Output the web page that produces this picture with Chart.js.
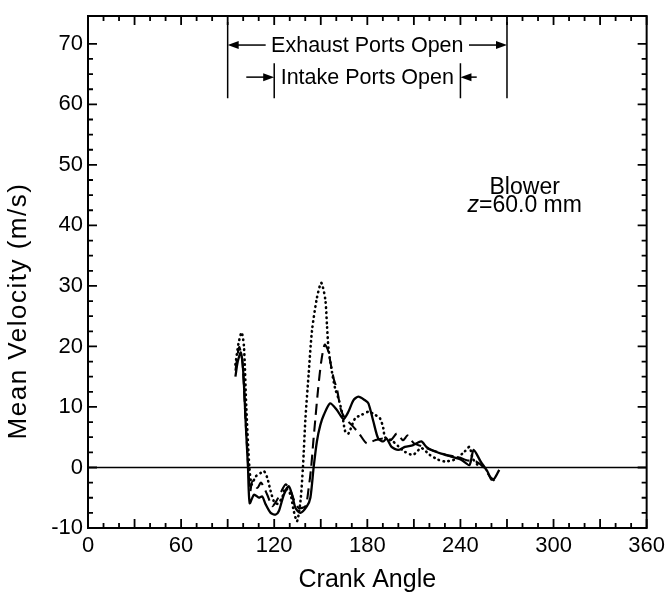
<!DOCTYPE html>
<html>
<head>
<meta charset="utf-8">
<script src="https://cdn.jsdelivr.net/npm/chart.js@4.4.1/dist/chart.umd.min.js"></script>
<style>
    html, body { margin: 0; padding: 0; background: #fff; }
    #wrap { width: 672px; height: 595px; }
</style>
</head>
<body>
<div id="wrap"><canvas id="myChart" width="672" height="595"></canvas></div>
<script>
var FONT = "'Liberation Sans', Arial, Helvetica, sans-serif";

// solid trace
var solidAngle = [95, 96.5, 98.5, 100, 101.6, 103.1, 104.2, 107, 110.2, 112.3, 114.5, 117.7, 120.9, 123, 126.2, 129.4, 131.5, 133.7, 136.9, 141.1, 143.3, 145.4, 147.5, 149.7, 152, 156, 160.4, 164.6, 167.8, 171, 174.2, 178.5, 180.7, 183.9, 187, 190.3, 192.4, 195.6, 199.9, 204.2, 209.5, 214.8, 218, 221.2, 227.6, 234, 240.4, 245.8, 248.5, 253, 257.5, 260, 262, 265];
var solidVel = [15.0, 17.5, 19.0, 16.0, 7.5, 0, -5.9, -4.5, -5.0, -4.8, -6.1, -7.5, -7.8, -7.2, -4.5, -3.1, -4.5, -6.7, -7.5, -6.4, -5.0, 0, 4.3, 7.0, 8.7, 10.6, 9.5, 8.0, 9.2, 11.1, 11.7, 11.1, 10.6, 7.6, 4.8, 4.3, 4.8, 3.4, 2.9, 3.4, 3.7, 4.3, 3.4, 2.9, 2.3, 1.8, 1.3, 0.4, 2.9, 1.0, -0.7, -2.0, -1.8, -0.4];

// dashed trace
var dashAngle = [95, 97.4, 99.5, 101.5, 103.3, 104.5, 105.9, 109.1, 111.5, 115.5, 118.7, 121.5, 124.5, 127.3, 130, 132.6, 135.8, 140.1, 142.2, 143.8, 145.2, 146.5, 148.3, 150.3, 152.5, 154.5, 156.5, 158.5, 160.4, 163, 166, 170, 175, 179.6, 185, 190, 195, 199, 203, 206, 210, 215, 220, 226, 232, 238, 244, 250, 255, 259, 262];
var dashVel = [16.0, 19.9, 17.5, 8.0, 0, -4.0, -2.3, -3.4, -2.5, -4.5, -6.4, -5.5, -4.0, -2.8, -3.5, -5.3, -6.7, -6.4, -3.4, 0, 4.3, 8.0, 13.0, 17.5, 20.3, 19.5, 17.0, 14.5, 13.0, 9.5, 8.0, 7.0, 5.5, 4.0, 4.5, 4.8, 4.5, 5.6, 4.5, 5.3, 4.0, 3.5, 3.0, 2.5, 2.0, 1.8, 1.2, 1.0, 0, -1.5, -2.2];

// dotted trace
var dotAngle = [95, 97, 99, 100.5, 102, 104, 105.5, 108, 111.3, 113.4, 115.5, 117.7, 119.8, 122, 125.1, 127.3, 130.5, 132.6, 134.7, 136.9, 138.5, 140.1, 142.2, 144.3, 147.5, 150.3, 152.9, 154, 155, 157.2, 159.3, 161.4, 163.6, 165.7, 167.8, 172.1, 176.4, 180.7, 185, 188.2, 190.3, 191.4, 195.6, 200, 204.1, 209.5, 214.8, 220.1, 225.5, 229.8, 236.2, 242.6, 245.8, 247.9, 251.1];
var dotVel = [17.0, 20.5, 22.3, 20.0, 10.0, 0, -2.8, -1.5, -0.9, -0.6, -1.7, -3.9, -5.6, -6.0, -5.0, -3.4, -4.5, -7.2, -8.9, -5.6, 0, 8.0, 15.5, 22.5, 28.0, 30.5, 27.8, 23.5, 19.6, 15.8, 13.0, 11.4, 9.2, 6.0, 5.6, 8.1, 8.7, 9.2, 8.7, 8.1, 6.5, 5.0, 4.5, 3.5, 2.6, 2.1, 3.2, 2.1, 1.3, 1.0, 1.3, 2.6, 3.4, 1.5, 0.4];

var xTickLabels = [0, 60, 120, 180, 240, 300, 360];
var yTickLabels = [-10, 0, 10, 20, 30, 40, 50, 60, 70];
var exhaustPorts = [90, 270];
var intakePorts = [120, 240];

function toPoints(xs, ys) {
    var pts = [];
    for (var i = 0; i < xs.length; i++) {
        pts.push({ x: xs[i], y: ys[i] });
    }
    return pts;
}

function arrow(ctx, x1, y, x2) {
    var dir = x2 > x1 ? 1 : -1;
    ctx.beginPath();
    ctx.moveTo(x1, y);
    ctx.lineTo(x2 - dir * 8, y);
    ctx.stroke();
    ctx.beginPath();
    ctx.moveTo(x2, y);
    ctx.lineTo(x2 - dir * 11, y - 4);
    ctx.lineTo(x2 - dir * 11, y + 4);
    ctx.closePath();
    ctx.fill();
}

var overlay = {
    id: 'overlay',
    beforeDatasetsDraw: function (chart) {
        var ctx = chart.ctx, a = chart.chartArea, ys = chart.scales.y;
        var y0 = ys.getPixelForValue(0);
        ctx.save();
        ctx.strokeStyle = '#000';
        ctx.lineWidth = 1.6;
        ctx.beginPath();
        ctx.moveTo(a.left, y0);
        ctx.lineTo(a.right, y0);
        ctx.stroke();
        ctx.restore();
    },
    afterDraw: function (chart) {
        var ctx = chart.ctx, a = chart.chartArea;
        var xs = chart.scales.x, ys = chart.scales.y;
        ctx.save();
        ctx.strokeStyle = '#000';
        ctx.fillStyle = '#000';

        // frame
        ctx.lineWidth = 2;
        ctx.strokeRect(a.left, a.top, a.right - a.left, a.bottom - a.top);

        // inward ticks on all four sides
        ctx.lineWidth = 1.8;
        ctx.beginPath();
        xs.ticks.forEach(function (t) {
            if (t.value % 10 !== 0) return;
            var px = xs.getPixelForValue(t.value);
            var len = t.value % 30 === 0 ? 9 : 5;
            ctx.moveTo(px, a.bottom); ctx.lineTo(px, a.bottom - len);
            ctx.moveTo(px, a.top); ctx.lineTo(px, a.top + len);
        });
        ys.ticks.forEach(function (t) {
            if (t.value % 2.5 !== 0) return;
            var py = ys.getPixelForValue(t.value);
            var len = t.value % 10 === 0 ? 9 : 5;
            ctx.moveTo(a.left, py); ctx.lineTo(a.left + len, py);
            ctx.moveTo(a.right, py); ctx.lineTo(a.right - len, py);
        });
        ctx.stroke();

        // port timing annotation
        ctx.lineWidth = 1.5;
        ctx.beginPath();
        exhaustPorts.forEach(function (d) {
            var px = xs.getPixelForValue(d);
            ctx.moveTo(px, ys.getPixelForValue(73.6));
            ctx.lineTo(px, ys.getPixelForValue(61));
        });
        intakePorts.forEach(function (d) {
            var px = xs.getPixelForValue(d);
            ctx.moveTo(px, ys.getPixelForValue(66.8));
            ctx.lineTo(px, ys.getPixelForValue(61));
        });
        ctx.stroke();

        var ey = ys.getPixelForValue(69.8);
        var iy = ys.getPixelForValue(64.5);
        arrow(ctx, xs.getPixelForValue(114.5), ey, xs.getPixelForValue(exhaustPorts[0]));
        arrow(ctx, xs.getPixelForValue(245.5), ey, xs.getPixelForValue(exhaustPorts[1]));
        arrow(ctx, xs.getPixelForValue(102), iy, xs.getPixelForValue(intakePorts[0]));
        arrow(ctx, xs.getPixelForValue(250.5), iy, xs.getPixelForValue(intakePorts[1]));

        ctx.font = '21.5px ' + FONT;
        ctx.textAlign = 'center';
        ctx.textBaseline = 'middle';
        ctx.fillText('Exhaust Ports Open', xs.getPixelForValue(180), ey + 1);
        ctx.fillText('Intake Ports Open', xs.getPixelForValue(180), iy + 1);

        // case label
        ctx.font = '23px ' + FONT;
        ctx.fillText('Blower', xs.getPixelForValue(281.4), ys.getPixelForValue(46.2));
        var zx = xs.getPixelForValue(281.4), zy = ys.getPixelForValue(43.2);
        ctx.font = 'italic 23px ' + FONT;
        var w1 = ctx.measureText('z').width;
        ctx.font = '23px ' + FONT;
        var w2 = ctx.measureText('=60.0 mm').width;
        ctx.textAlign = 'left';
        var sx = zx - (w1 + w2) / 2;
        ctx.font = 'italic 23px ' + FONT;
        ctx.fillText('z', sx, zy);
        ctx.font = '23px ' + FONT;
        ctx.fillText('=60.0 mm', sx + w1, zy);

        // y axis title
        ctx.save();
        ctx.translate(19, 311);
        ctx.rotate(-Math.PI / 2);
        ctx.font = '26px ' + FONT;
        ctx.letterSpacing = '1.5px';
        ctx.textAlign = 'center';
        ctx.fillText('Mean Velocity (m/s)', 0, 0);
        ctx.restore();

        ctx.restore();
    }
};

var ctx = document.getElementById('myChart').getContext('2d');
var myChart = new Chart(ctx, {
    type: 'line',
    data: {
        datasets: [{
            label: 'solid',
            data: toPoints(solidAngle, solidVel),
            borderColor: '#000',
            borderWidth: 2.3,
            pointRadius: 0,
            tension: 0.25
        }, {
            label: 'dashed',
            data: toPoints(dashAngle, dashVel),
            borderColor: '#000',
            borderWidth: 2.1,
            borderDash: [11, 6],
            pointRadius: 0,
            tension: 0.25
        }, {
            label: 'dotted',
            data: toPoints(dotAngle, dotVel),
            borderColor: '#000',
            borderWidth: 2.6,
            borderDash: [0.5, 4.5],
            borderCapStyle: 'round',
            pointRadius: 0,
            tension: 0.25
        }]
    },
    options: {
        responsive: false,
        animation: false,
        layout: { padding: { top: 12, right: 20, left: 0, bottom: 0 } },
        plugins: {
            legend: { display: false },
            tooltip: { enabled: false }
        },
        scales: {
            x: {
                type: 'linear',
                min: 0,
                max: 360,
                grid: { display: false, drawTicks: false, tickLength: 0 },
                border: { display: false },
                ticks: {
                    stepSize: 10,
                    autoSkip: false,
                    maxRotation: 0,
                    padding: 7,
                    color: '#000',
                    font: { family: FONT, size: 22, lineHeight: 1 },
                    callback: function (v) { return xTickLabels.indexOf(v) >= 0 ? String(v) : ''; }
                },
                title: {
                    display: true,
                    text: 'Crank Angle',
                    color: '#000',
                    font: { family: FONT, size: 25 },
                    padding: { top: 0, bottom: 0 }
                },
                afterFit: function (scale) { scale.height = 67; }
            },
            y: {
                min: -10,
                max: 74.6,
                grid: { display: false, drawTicks: false, tickLength: 0 },
                border: { display: false },
                ticks: {
                    stepSize: 2.5,
                    autoSkip: false,
                    padding: 5,
                    color: '#000',
                    font: { family: FONT, size: 22, lineHeight: 1 },
                    callback: function (v) { return yTickLabels.indexOf(v) >= 0 ? String(v) : ''; }
                },
                title: { display: false },
                afterFit: function (scale) { scale.width = 88; }
            }
        }
    },
    plugins: [overlay]
});
</script>
</body>
</html>
